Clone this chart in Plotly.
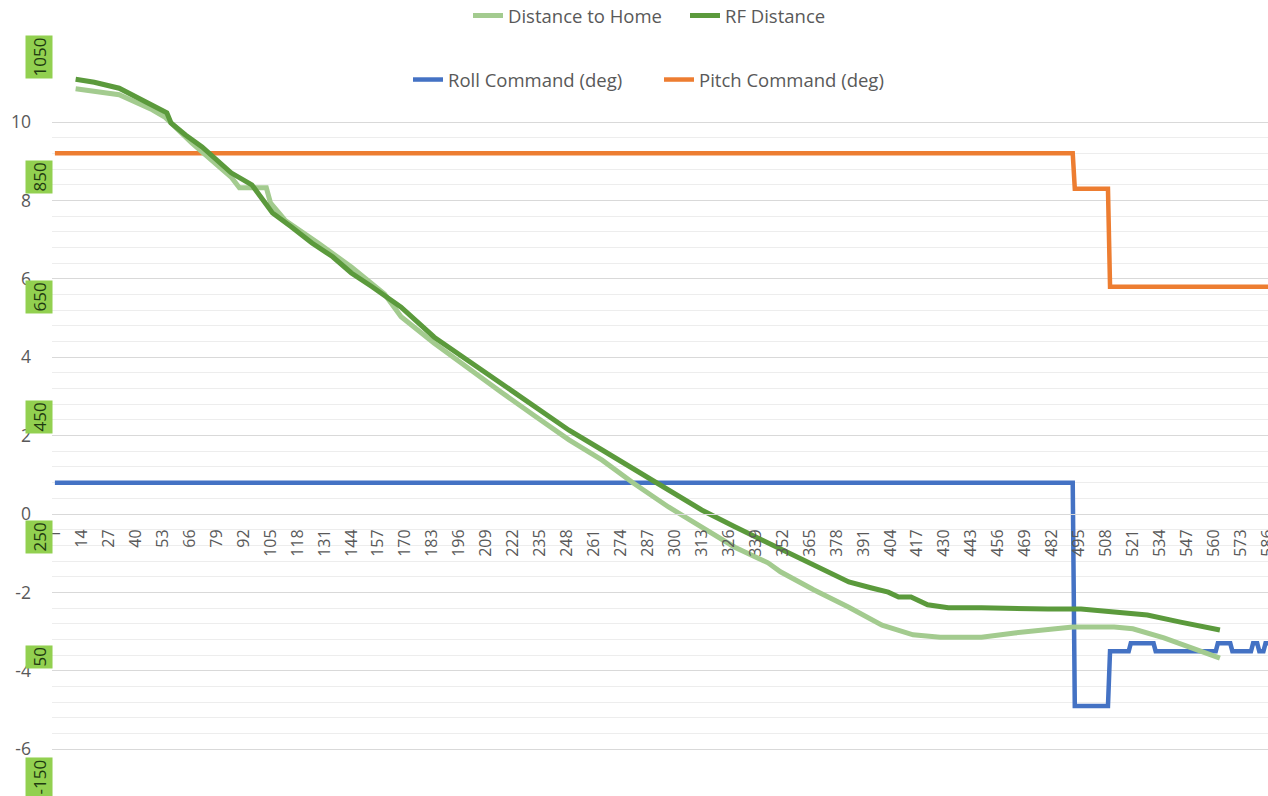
import numpy as np
import plotly.graph_objects as go

# ---------------- data ----------------
roll_x = [1, 492, 493, 509, 510, 519, 520, 531, 532, 561, 562, 568, 569, 578, 579, 581, 582, 584, 585, 590]
roll_y = [0.8, 0.8, -4.9, -4.9, -3.5, -3.5, -3.3, -3.3, -3.5, -3.5, -3.3, -3.3, -3.5, -3.5, -3.3, -3.3, -3.5, -3.5, -3.3, -3.3]

pitch_x = [1, 492, 493, 509, 510, 590]
pitch_y = [9.2, 9.2, 8.3, 8.3, 5.8, 5.8]

home_x = [11, 20, 32, 48, 54, 67, 77, 86, 90, 103, 105, 112, 128, 144, 160, 168, 184, 200, 216, 232,
          249, 265, 280, 297, 313, 329, 345, 351, 367, 384, 400, 415, 428, 448, 464, 480, 492, 512,
          521, 536, 552, 563]
home_y = [997, 993, 987, 962, 950, 907, 878, 850, 832, 832, 807, 778, 740, 700, 655, 617, 573, 532, 492, 453,
          412, 378, 340, 300, 267, 233, 207, 192, 162, 133, 103, 87, 83, 83, 90, 95, 100, 100,
          97, 82, 62, 48]

rf_x = [11, 20, 32, 40, 48, 55, 57, 64, 72, 78, 86, 96, 101, 106, 115, 125, 135, 144, 154, 163, 168,
        184, 200, 216, 232, 249, 265, 281, 297, 313, 329, 345, 351, 360, 367, 384, 395, 403, 408, 414,
        422, 432, 448, 464, 480, 496, 512, 528, 544, 563]
rf_y = [1013, 1008, 998, 983, 970, 957, 940, 920, 900, 882, 857, 837, 812, 790, 767, 740, 717, 690, 667, 645, 633,
        583, 545, 507, 467, 428, 395, 362, 328, 295, 267, 240, 231, 217, 203, 175, 165, 158, 150, 150,
        137, 132, 132, 130, 130, 130, 125, 120, 108, 95]

x_ticks = list(range(1, 587, 13))
left_ticks = [-6, -4, -2, 0, 2, 4, 6, 8, 10]
left_labels = ["-6", "-4", "-2", "0", "2", "4", "6", "8", "10"]
dist_ticks = [1050, 850, 650, 450, 250, 50, -150]
dist_labels = ["1050", "850", "650", "450", "250", "50", "-150"]

# ---------------- styling ----------------
W, H = 1268, 796
ML, MR, MT, MB = 52, 0, 30, 0
PW, PH = W - ML - MR, H - MT - MB
Y_RANGE = [-7.194, 12.347]
Y2_RANGE = [-181.7, 1095.0]
X_RANGE = [-0.4, 586.2]

BLUE = "#4472C4"
ORANGE = "#ED7D31"
LIGHT_GREEN = "#A3CB8F"
DARK_GREEN = "#5B9A3C"
LABEL_GREEN = "#92D050"
TXT = "#595959"
FONT = "Open Sans"

minor_vals = [round(v, 2) for v in np.arange(-6, 10.001, 0.4)
              if abs(round(v, 2) / 2 - round(round(v, 2) / 2)) > 1e-6]

fig = go.Figure()

fig.add_trace(go.Scatter(x=roll_x, y=roll_y, mode="lines", name="Roll Command (deg)",
                         line=dict(color=BLUE, width=4.5), legend="legend2", yaxis="y"))
fig.add_trace(go.Scatter(x=pitch_x, y=pitch_y, mode="lines", name="Pitch Command (deg)",
                         line=dict(color=ORANGE, width=4.5), legend="legend2", yaxis="y"))
fig.add_trace(go.Scatter(x=home_x, y=home_y, mode="lines", name="Distance to Home",
                         line=dict(color=LIGHT_GREEN, width=5), legend="legend", yaxis="y2"))
fig.add_trace(go.Scatter(x=rf_x, y=rf_y, mode="lines", name="RF Distance",
                         line=dict(color=DARK_GREEN, width=5), legend="legend", yaxis="y2"))

zero_pos = (0 - Y_RANGE[0]) / (Y_RANGE[1] - Y_RANGE[0])

annotations = []
for v, t in zip(dist_ticks, dist_labels):
    annotations.append(dict(x=(39 - ML) / PW, xref="paper", y=v, yref="y2",
                            text=t, showarrow=False, textangle=-90, bgcolor=LABEL_GREEN,
                            font=dict(family=FONT, size=17, color="#1E3A10"),
                            borderpad=1.5, xanchor="center", yanchor="middle"))

fig.update_layout(
    width=W, height=H,
    margin=dict(l=ML, r=MR, t=MT, b=MB, autoexpand=False),
    paper_bgcolor="white", plot_bgcolor="white",
    font=dict(family=FONT, color=TXT),
    showlegend=True,
    legend=dict(orientation="h", x=(468 - ML) / PW, xanchor="left", y=1 - (16 - MT) / PH,
                yanchor="middle", font=dict(size=18.5, color=TXT), bgcolor="rgba(0,0,0,0)",
                entrywidth=172, entrywidthmode="pixels"),
    legend2=dict(orientation="h", x=(408 - ML) / PW, xanchor="left", y=1 - (80 - MT) / PH,
                 yanchor="middle", font=dict(size=18.5, color=TXT), bgcolor="rgba(0,0,0,0)",
                 entrywidth=206, entrywidthmode="pixels"),
    xaxis=dict(range=X_RANGE, tickmode="array", tickvals=x_ticks, tickangle=-90,
               showgrid=False, zeroline=False, automargin=False,
               anchor="free", position=zero_pos, showline=True, linecolor="#D9D9D9", linewidth=1,
               ticks="", tickfont=dict(family=FONT, size=16, color=TXT), ticklabelstandoff=8,
               ticklabeloverflow="allow"),
    yaxis=dict(range=Y_RANGE, tickmode="array", tickvals=left_ticks, ticktext=left_labels,
               showgrid=True, gridcolor="#D9D9D9", gridwidth=1.2, zeroline=False, showline=False,
               automargin=False,
               tickfont=dict(family=FONT, size=17.5, color=TXT), ticklabelstandoff=20,
               minor=dict(tickmode="array", tickvals=minor_vals, showgrid=True,
                          gridcolor="#EDEDED", gridwidth=1, ticks="")),
    yaxis2=dict(range=Y2_RANGE, overlaying="y", side="left", showgrid=False, zeroline=False,
                showticklabels=False, showline=False),
    annotations=annotations,
)

fig.write_html("out.html", config={"displayModeBar": False},
               post_script="document.body.style.margin='0';document.body.style.overflow='hidden';")
